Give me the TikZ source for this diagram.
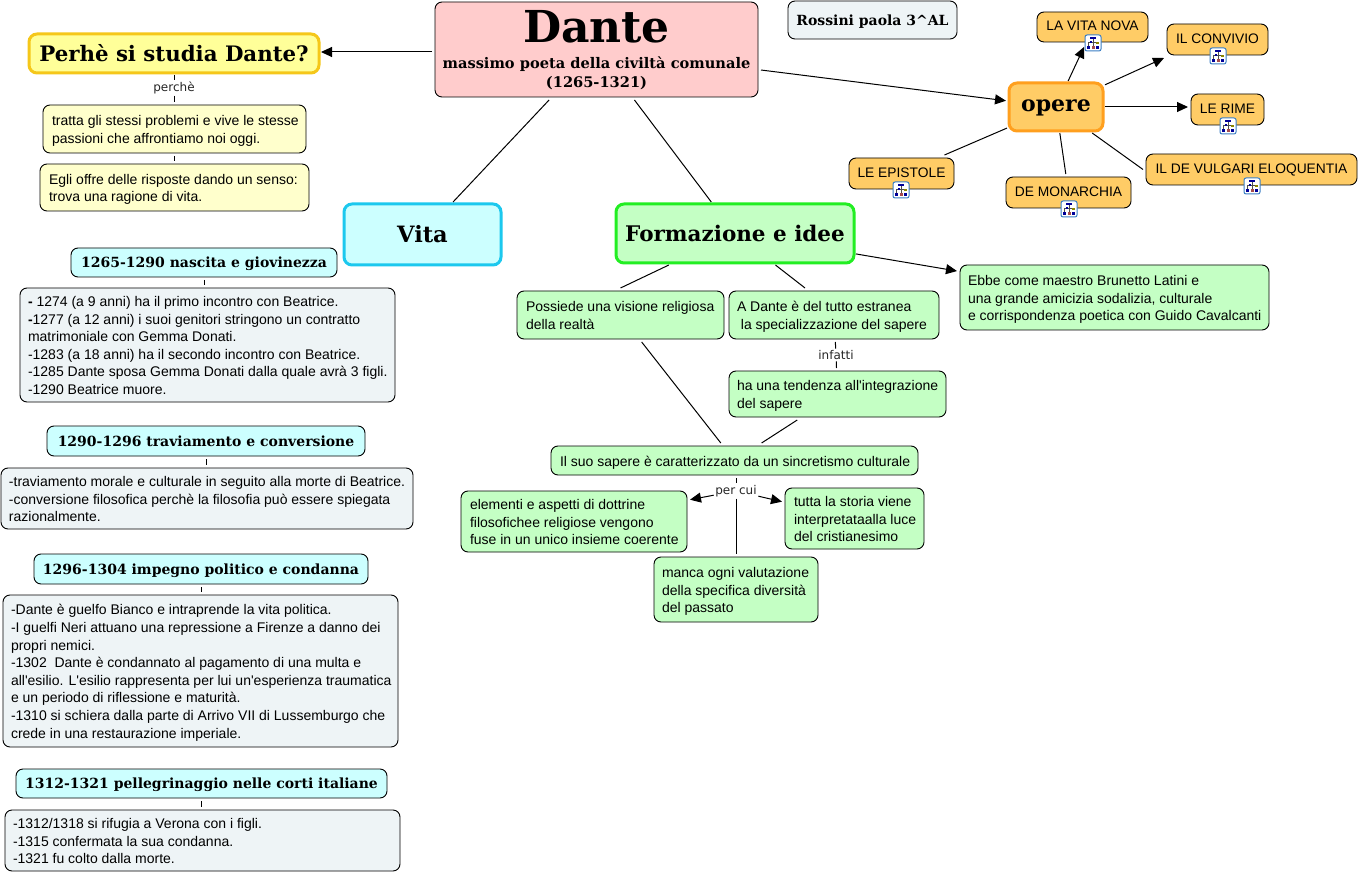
\documentclass[tikz,border=0pt]{standalone}
\usepackage{fontspec}
\usetikzlibrary{arrows.meta,calc}
\setmainfont{Liberation Sans}[Ligatures=ResetAll]
\newfontfamily\headfont{DejaVu Serif}[BoldFont={DejaVu Serif Bold}]
\newfontfamily\linkfont{DejaVu Sans}
\definecolor{pinkfill}{HTML}{FFCCCC}
\definecolor{greyfill}{HTML}{EEF4F6}
\definecolor{orangefill}{HTML}{FFCC66}
\definecolor{orangeline}{HTML}{FF9F1E}
\definecolor{yellowfill}{HTML}{FFFF99}
\definecolor{yellowline}{HTML}{F5C71A}
\definecolor{paleyellow}{HTML}{FFFFCC}
\definecolor{cyanfill}{HTML}{CCFFFF}
\definecolor{cyanline}{HTML}{1CC8EE}
\definecolor{greenfill}{HTML}{C4FFC4}
\definecolor{greenline}{HTML}{22EE22}
\definecolor{iconblue}{HTML}{3B7FC4}
\def\bxal{l}
\tikzset{
  box/.style={draw=black,line width=0.9pt,rounded corners=7pt,outer sep=3pt,inner sep=0pt,text=black},
  thick box/.style={box,line width=3pt,rounded corners=8pt,outer sep=2pt},
  txt/.style={font=\fontsize{14}{17.6}\selectfont},
  small/.style={font=\fontsize{13.8}{17.6}\selectfont},
  ctr/.code={\def\bxal{c}},
  head/.style={font=\headfont\bfseries\fontsize{14}{16}\selectfont,ctr},
  link/.style={fill=white,font=\linkfont\fontsize{12}{14}\selectfont,inner sep=1.5pt,text=black!85},
  conn/.style={line width=1pt,draw=black},
  arr/.style={conn,-{Triangle[length=11pt,width=10pt]}},
  icon/.pic={
    \draw[iconblue,fill=white,line width=1pt,rounded corners=2pt] (-8,-8) rectangle (8,8);
    \draw[black!70,line width=0.6pt] (0,-4) -- (0,4) (-4.5,-0.5) -- (4.5,-0.5) (-4.5,-0.5) -- (-4.5,4) (4.5,-0.5) -- (4.5,1);
    \fill[blue!60!black] (-3,-6) rectangle (3,-3.8);
    \fill[blue!60!black] (-6,3.5) rectangle (-3,6);
    \fill[red!50!black!70] (-1.5,3.5) rectangle (1.5,6);
    \fill[blue!60!black] (3,3.5) rectangle (6,6);
    \fill[olive] (3,-1) rectangle (6,1.5);
    \fill[blue!60!black] (-3,-1.5) rectangle (-1,0.5);
  }
}
% \bx{style}{name}{x1}{y1}{x2}{y2}{left pad}{text}
\newcommand{\bx}[8]{%
  \pgfmathsetmacro{\bw}{#5-#3}\pgfmathsetmacro{\bh}{#6-#4}%
  \pgfmathsetmacro{\bcx}{(#3+#5)/2}\pgfmathsetmacro{\bcy}{(#4+#6)/2}%
  \pgfmathsetmacro{\btw}{#5-#3-2*#7}%
  \node[#1,minimum width=\bw pt,minimum height=\bh pt] (#2) at (\bcx,\bcy)
    {\raisebox{-2pt}[\height][\depth]{\makebox[\btw pt][\bxal]{\begin{tabular}{@{}\bxal@{}}#8\end{tabular}}}};}
\begin{document}
\begin{tikzpicture}[x=1pt,y=-1pt]
\useasboundingbox (0,0) rectangle (1359,874);
\fill[white] (0,0) rectangle (1359,874);
% central
\bx{box,fill=pinkfill,head}{dante}{435}{2}{758}{97}{2}{\raisebox{3pt}[38pt][3pt]{\fontsize{44}{44}\selectfont Dante}\\[7pt]\fontsize{14.6}{19}\selectfont massimo poeta della civilt\`a comunale\\[3pt]\fontsize{14.6}{19}\selectfont (1265-1321)\\[3pt]}
\bx{box,fill=greyfill,head}{rossini}{788}{1}{957}{39}{2}{Rossini paola 3\^{}AL}
% why
\bx{thick box,fill=yellowfill,head,draw=yellowline}{perhe}{29}{34}{319}{73}{2}{\fontsize{21.3}{24}\selectfont Perh\`e si studia Dante?}
\bx{box,fill=paleyellow,txt}{tratta}{43}{105}{306}{153}{9}{tratta gli stessi problemi e vive le stesse\\passioni che affrontiamo noi oggi.}
\bx{box,fill=paleyellow,txt}{egli}{40}{164}{309}{211}{9}{Egli offre delle risposte dando un senso:\\trova una ragione di vita.}
\node[link] (perche) at (174,88) {perch\`e};
% vita
\bx{thick box,fill=cyanfill,head,draw=cyanline}{vita}{344}{204}{501}{265}{2}{\fontsize{22.5}{26}\selectfont Vita}
\bx{thick box,fill=greenfill,head,draw=greenline}{form}{616}{204}{854}{263}{2}{\fontsize{21.5}{26}\selectfont Formazione e idee}
\bx{box,fill=cyanfill,head}{ha}{71}{248}{337}{277}{2}{1265-1290 nascita e giovinezza}
\bx{box,fill=greyfill,txt}{ba}{20}{288}{395}{402}{8}{\textbf{-} 1274 (a 9 anni) ha il primo incontro con Beatrice.\\\textbf{-}1277 (a 12 anni) i suoi genitori stringono un contratto\\matrimoniale con Gemma Donati.\\-1283 (a 18 anni) ha il secondo incontro con Beatrice.\\-1285 Dante sposa Gemma Donati dalla quale avr\`a 3 figli.\\-1290 Beatrice muore.}
\bx{box,fill=cyanfill,head}{hb}{47}{426}{365}{456}{2}{1290-1296 traviamento e conversione}
\bx{box,fill=greyfill,txt}{bb}{1}{468}{413}{529}{8}{-traviamento morale e culturale in seguito alla morte di Beatrice.\\-conversione filosofica perch\`e la filosofia pu\`o essere spiegata\\razionalmente.}
\bx{box,fill=cyanfill,head}{hc}{34}{554}{368}{584}{2}{1296-1304 impegno politico e condanna}
\bx{box,fill=greyfill,txt}{bc}{3}{595}{398}{747}{8}{-Dante \`e guelfo Bianco e intraprende la vita politica.\\-I guelfi Neri attuano una repressione a Firenze a danno dei\\propri nemici.\\-1302\ \ Dante \`e condannato al pagamento di una multa e\\all\textquotesingle esilio. L\textquotesingle esilio rappresenta per lui un\textquotesingle esperienza traumatica\\e un periodo di riflessione e maturit\`a.\\-1310 si schiera dalla parte di Arrivo VII di Lussemburgo che\\crede in una restaurazione imperiale.}
\bx{box,fill=cyanfill,head}{hd}{16}{769}{387}{798}{2}{1312-1321 pellegrinaggio nelle corti italiane}
\bx{box,fill=greyfill,txt}{bd}{5}{810}{400}{871}{8}{-1312/1318 si rifugia a Verona con i figli.\\-1315 confermata la sua condanna.\\-1321 fu colto dalla morte.}
% formazione
\bx{box,fill=greenfill,txt}{poss}{517}{291}{724}{339}{9}{Possiede una visione religiosa\\della realt\`a}
\bx{box,fill=greenfill,txt}{adante}{729}{291}{939}{339}{8}{A Dante \`e del tutto estranea\\\ la specializzazione del sapere}
\bx{box,fill=greenfill,txt}{hauna}{729}{371}{946}{417}{8}{ha una tendenza all\textquotesingle integrazione\\del sapere}
\bx{box,fill=greenfill,txt}{ebbe}{960}{265}{1269}{330}{8}{Ebbe come maestro Brunetto Latini e\\una grande amicizia sodalizia, culturale\\e corrispondenza poetica con Guido Cavalcanti}
\bx{box,fill=greenfill,txt}{suo}{551}{446}{918}{475}{9}{Il suo sapere \`e caratterizzato da un sincretismo culturale}
\bx{box,fill=greenfill,txt}{elem}{461}{491}{687}{552}{9}{elementi e aspetti di dottrine\\filosofichee religiose vengono\\fuse in un unico insieme coerente}
\bx{box,fill=greenfill,txt}{tutta}{785}{488}{924}{549}{9}{tutta la storia viene\\interpretataalla luce\\del cristianesimo}
\bx{box,fill=greenfill,txt}{manca}{654}{557}{818}{622}{8}{manca ogni valutazione\\della specifica diversit\`a\\del passato}
\node[link] (infatti) at (836,355) {infatti};
\node[link] (percui) at (736,491) {per cui};
% opere
\bx{thick box,fill=orangefill,head,draw=orangeline}{opere}{1009}{83}{1103}{131}{2}{\raisebox{1pt}{\fontsize{22}{26}\selectfont opere}}
\bx{box,fill=orangefill,small,ctr}{vnova}{1037}{12}{1148}{42}{1}{\raisebox{2pt}{LA VITA NOVA}}
\bx{box,fill=orangefill,small,ctr}{conv}{1167}{24}{1268}{55}{1}{\raisebox{2pt}{IL CONVIVIO}}
\bx{box,fill=orangefill,small,ctr}{rime}{1191}{94}{1264}{125}{1}{\raisebox{2pt}{LE RIME}}
\bx{box,fill=orangefill,small,ctr}{vulg}{1146}{154}{1357}{185}{1}{\raisebox{2pt}{IL DE VULGARI ELOQUENTIA}}
\bx{box,fill=orangefill,small,ctr}{mon}{1006}{177}{1131}{208}{1}{\raisebox{2pt}{DE MONARCHIA}}
\bx{box,fill=orangefill,small,ctr}{epist}{849}{158}{954}{189}{1}{\raisebox{2pt}{LE EPISTOLE}}
\coordinate (vnovaT) at (1084,47);
% connectors
\draw[arr] ([yshift=1.5pt]dante.west |- perhe.east) -- ([yshift=1.5pt]perhe.east);
\draw[arr,shorten >=1pt] (dante) -- (opere);
\draw[conn] (dante) -- (vita);
\draw[conn] (dante) -- (form);
\draw[conn] (perhe.south) -- (perche);
\draw[conn] (perche) -- (tratta.north -| perche);
\draw[conn] (tratta) -- (egli);
\draw[conn] (ha.south) -- (ha.south |- ba.north);
\draw[conn] (hb.south) -- (hb.south |- bb.north);
\draw[conn] (hc.south) -- (hc.south |- bc.north);
\draw[conn] (hd.south) -- (hd.south |- bd.north);
\draw[conn] (form) -- (poss.north);
\draw[conn] (form) -- ([xshift=-29pt]adante.north);
\draw[arr] (form) -- (ebbe);
\draw[conn] (adante) -- (infatti);
\draw[conn] (infatti) -- (hauna);
\draw[conn] (poss) -- (suo);
\draw[conn] (hauna) -- (suo);
\draw[conn] (suo.south -| percui) -- (percui);
\draw[arr] (percui) -- (elem);
\draw[arr] (percui) -- (tutta);
\draw[conn] (percui) -- (percui |- manca.north);
\draw[arr] (opere) -- (vnovaT);
\draw[arr] (opere) -- (conv.south west);
\draw[arr] (opere.east) -- (rime.west |- opere.east);
\draw[conn] (opere) -- (vulg.west);
\draw[conn] (opere) -- (mon);
\draw[conn] (opere) -- (epist);
% icons
\path (1093,43) pic {icon};
\path (1218,56) pic {icon};
\path (1228,126) pic {icon};
\path (1252,186) pic {icon};
\path (1069,209) pic {icon};
\path (901,190) pic {icon};
\end{tikzpicture}
\end{document}
